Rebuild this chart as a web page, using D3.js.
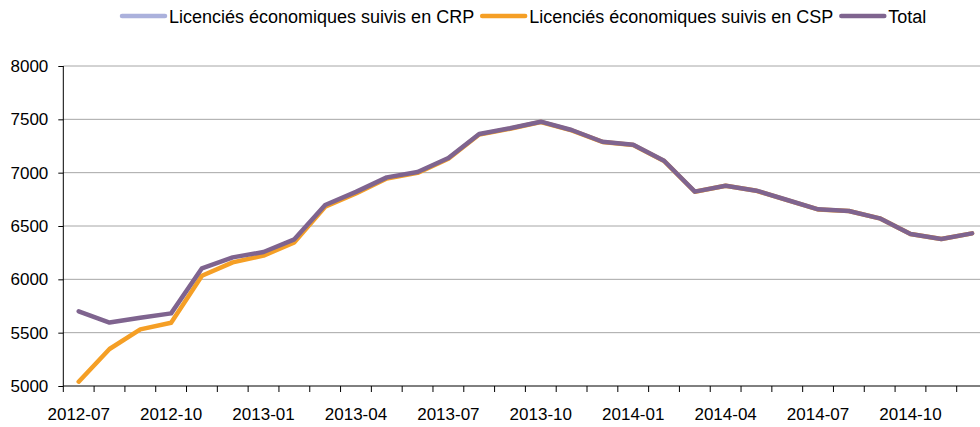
<!DOCTYPE html>
<html lang="fr">
<head>
    <meta charset="UTF-8">
    <title>Licenciés économiques suivis en CRP / CSP</title>
    <script src="https://cdn.jsdelivr.net/npm/d3@7"></script>
    <style>
        body { margin: 0; background: #fff; }
        text { font-family: "Liberation Sans", Arial, sans-serif; fill: #000; }
    </style>
</head>
<body>
    <svg id="svg" width="980" height="427"></svg>
    <script>
        const months = [
            "2012-07", "2012-08", "2012-09", "2012-10", "2012-11", "2012-12",
            "2013-01", "2013-02", "2013-03", "2013-04", "2013-05", "2013-06",
            "2013-07", "2013-08", "2013-09", "2013-10", "2013-11", "2013-12",
            "2014-01", "2014-02", "2014-03", "2014-04", "2014-05", "2014-06",
            "2014-07", "2014-08", "2014-09", "2014-10", "2014-11", "2014-12"
        ]
        const crp = [660, 248, 109, 88, 69, 47, 34, 28, 16, 14, 10, 8, 6, 5, 4, 3, 3, 2, 2, 2, 1, 1, 1, 1, 1, 0, 0, 0, 0, 0]
        const csp = [5040, 5347, 5531, 5593, 6034, 6159, 6222, 6347, 6681, 6806, 6946, 6998, 7131, 7357, 7412,
                     7475, 7397, 7288, 7260, 7110, 6821, 6877, 6830, 6743, 6655, 6641, 6572, 6425, 6378, 6431]
        const total = [5700, 5595, 5640, 5681, 6103, 6206, 6256, 6375, 6697, 6820, 6956, 7006, 7137, 7362, 7416,
                       7478, 7400, 7290, 7262, 7112, 6822, 6878, 6831, 6744, 6656, 6641, 6572, 6425, 6378, 6431]
        const yTicks = [5000, 5500, 6000, 6500, 7000, 7500, 8000]
        const xLabels = ["2012-07", "2012-10", "2013-01", "2013-04", "2013-07", "2013-10", "2014-01", "2014-04", "2014-07", "2014-10"]

        const series = [
            {name: "Licenciés économiques suivis en CRP", values: crp, color: "#abb1dc"},
            {name: "Licenciés économiques suivis en CSP", values: csp, color: "#f59f25"},
            {name: "Total", values: total, color: "#7f648f"}
        ]

        const svg = d3.select("#svg")
        const width = +svg.attr("width")
        const margin = {top: 66, left: 63.3, bottom: 386, right: 987.5}

        const xScale = d3.scaleBand()
            .domain(months)
            .range([margin.left, margin.right])
            .paddingInner(0).paddingOuter(0)

        const yScale = d3.scaleLinear()
            .domain([5000, 8000])
            .range([margin.bottom, margin.top])

        // grid
        svg.append("g").selectAll("line").data(yTicks.slice(1)).join("line")
            .attr("x1", margin.left).attr("x2", width)
            .attr("y1", d => yScale(d)).attr("y2", d => yScale(d))
            .attr("stroke", "#a6a6a6").attr("stroke-width", 1)

        // y axis
        const yAxis = d3.axisLeft(yScale).tickValues(yTicks).tickSize(5).tickPadding(10).tickFormat(d3.format("d"))
        const gy = svg.append("g").attr("transform", `translate(${margin.left},0)`).call(yAxis)
        gy.select(".domain").attr("stroke", "#000").attr("d", `M-0,${margin.bottom}V${margin.top}`)
        gy.selectAll(".tick line").attr("stroke", "#000")
        gy.selectAll("text").style("font-size", "17px").attr("font-family", null)

        // x axis: ticks at band boundaries
        const gx = svg.append("g").attr("transform", `translate(0,${margin.bottom})`)
        gx.append("line").attr("x1", margin.left).attr("x2", width).attr("stroke", "#000")
        gx.selectAll(".xt").data(months).join("line")
            .attr("class", "xt")
            .attr("x1", d => xScale(d)).attr("x2", d => xScale(d))
            .attr("y1", 0).attr("y2", 6).attr("stroke", "#000")
        gx.selectAll(".xl").data(xLabels).join("text")
            .attr("class", "xl")
            .attr("x", d => xScale(d) + xScale.bandwidth() / 2)
            .attr("y", 34)
            .attr("text-anchor", "middle")
            .style("font-size", "17px")
            .text(d => d)

        // lines
        svg.append("clipPath").attr("id", "plot").append("rect")
            .attr("x", margin.left).attr("y", 0).attr("width", width - margin.left).attr("height", margin.bottom + 1)

        const line = d3.line()
            .x((d, i) => xScale(months[i]) + xScale.bandwidth() / 2)
            .y(d => yScale(d))

        svg.append("g").attr("clip-path", "url(#plot)")
            .selectAll("path").data(series).join("path")
            .attr("d", d => line(d.values))
            .attr("fill", "none")
            .attr("stroke", d => d.color)
            .attr("stroke-width", 4.5)
            .attr("stroke-linejoin", "round")
            .attr("stroke-linecap", "round")

        // legend
        const lg = svg.append("g").attr("transform", "translate(122,0)")
        let lx = 0
        series.forEach(s => {
            const item = lg.append("g").attr("transform", `translate(${lx},0)`)
            item.append("line").attr("x1", 0).attr("x2", 43).attr("y1", 16).attr("y2", 16)
                .attr("stroke", s.color).attr("stroke-width", 4.5).attr("stroke-linecap", "round")
            const t = item.append("text").attr("x", 47).attr("y", 23).style("font-size", "18px").text(s.name)
            lx += 47 + t.node().getComputedTextLength() + 8
        })
    </script>
</body>
</html>
